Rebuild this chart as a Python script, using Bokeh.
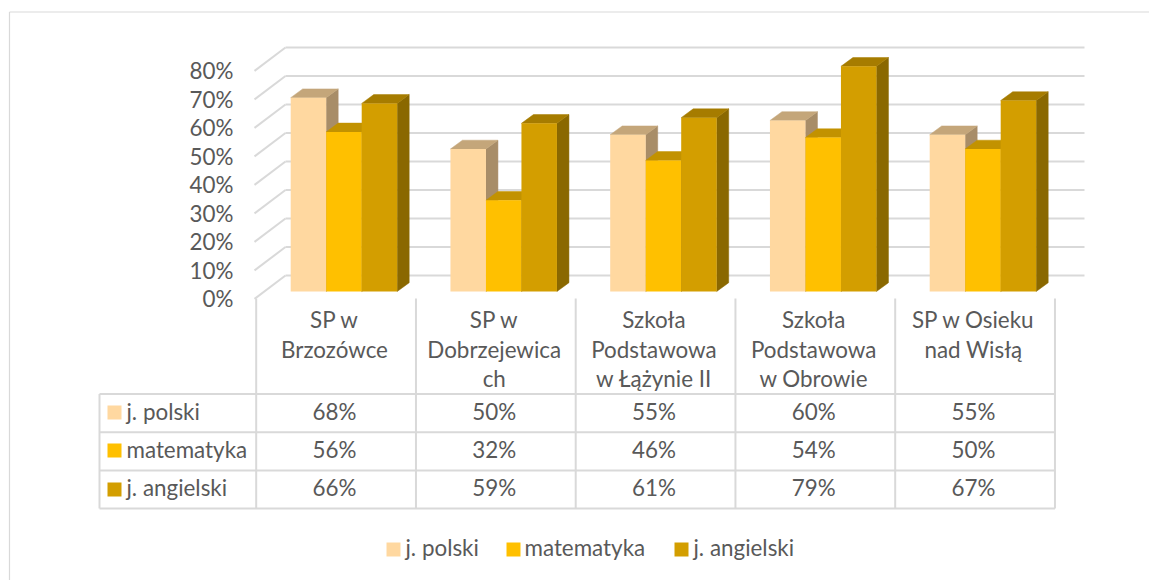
from bokeh.plotting import figure
from bokeh.embed import file_html
from bokeh.resources import INLINE
from bokeh.core.properties import value
from bokeh.models import Range1d, LinearAxis, FixedTicker, PrintfTickFormatter

categories = ["SP w\nBrzozówce", "SP w\nDobrzejewica\nch", "Szkoła\nPodstawowa\nw Łążynie II",
              "Szkoła\nPodstawowa\nw Obrowie", "SP w Osieku\nnad Wisłą"]
series_names = ["j. polski", "matematyka", "j. angielski"]
polski = [68, 50, 55, 60, 55]
matematyka = [56, 32, 46, 54, 50]
angielski = [66, 59, 61, 79, 67]
y_ticks = [0, 10, 20, 30, 40, 50, 60, 70, 80]

FONT = value("Lato")
FS = value("22.4px")
TXT = "#595959"
GRID = "#d9d9d9"
FRONT = ["#FFD8A0", "#FFC000", "#D39E00"]
TOP = ["#C4A67A", "#C29200", "#A67C00"]
SIDE = ["#A88D68", "#A67C00", "#8A6800"]

# layout: pixel geometry of the page -> data scales
W, H = 1149, 580
CELL = 159.75
X0 = 255.7
Y0 = 298.4
PPV = 2.85


def ux(px):
    return (px - X0) / CELL


def vy(py):
    return (Y0 - py) / PPV


p = figure(width=W, height=H, output_backend="svg", toolbar_location=None,
           x_range=Range1d(ux(0), ux(W)), y_range=Range1d(vy(H), vy(0)),
           x_axis_location=None, y_axis_location=None,
           min_border=0, min_border_left=0, min_border_right=0, min_border_top=0, min_border_bottom=0,
           outline_line_color=None, background_fill_color="white", border_fill_color="white")
p.xgrid.visible = False
p.ygrid.visible = False
p.grid.visible = False

# chart frame
p.segment([ux(9)], [vy(11.5)], [ux(W)], [vy(11.5)], line_color=GRID, line_width=1.2)
p.segment([ux(9)], [vy(11.5)], [ux(9)], [vy(H)], line_color=GRID, line_width=1.2)

# walls: side wall diagonals and back wall lines
wall_dx = 31 / CELL
wall_dy = 23.4 / PPV
n = len(categories)
back_end = ux(1084)
x_wall = ux(254)
p.segment([x_wall] * len(y_ticks), y_ticks, [x_wall + wall_dx] * len(y_ticks),
          [t + wall_dy for t in y_ticks], line_color=GRID, line_width=2)
p.segment([x_wall + wall_dx] * len(y_ticks), [t + wall_dy for t in y_ticks],
          [back_end] * len(y_ticks), [t + wall_dy for t in y_ticks], line_color=GRID, line_width=2)

# bars
bar_w = 35.5 / CELL
bar_x0 = 34.5 / CELL
base = (Y0 - 291) / PPV
dx = 12 / CELL
dy = 8.8 / PPV
for j, vals in enumerate([polski, matematyka, angielski]):
    left = [i + bar_x0 + j * bar_w for i in range(n)]
    right = [l + bar_w for l in left]
    tops = [base + v for v in vals]
    p.patches([[r, r + dx, r + dx, r] for r in right],
              [[base, base + dy, t + dy, t] for t in tops],
              fill_color=SIDE[j], line_color=SIDE[j], line_width=0.5)
    p.patches([[l, l + dx, r + dx, r] for l, r in zip(left, right)],
              [[t, t + dy, t + dy, t] for t in tops],
              fill_color=TOP[j], line_color=TOP[j], line_width=0.5)
    p.vbar(x=[l + bar_w / 2 for l in left], width=bar_w, bottom=base, top=tops,
           fill_color=FRONT[j], line_color=None)

# data table grid
row_lines = [vy(393.5), vy(431.7), vy(470), vy(508)]
col_lines = [float(i) for i in range(n + 1)]
tab_left = ux(99)
p.segment([tab_left] * len(row_lines), row_lines, [float(n)] * len(row_lines), row_lines,
          line_color=GRID, line_width=2)
p.segment(col_lines, [vy(298)] * len(col_lines), col_lines, [row_lines[-1]] * len(col_lines),
          line_color=GRID, line_width=2)
p.segment([tab_left], [row_lines[0]], [tab_left], [row_lines[-1]], line_color=GRID, line_width=2)

# category labels
line_y = [vy(319.2), vy(348.7), vy(377.7)]
xs, ys, ts = [], [], []
for i, c in enumerate(categories):
    for k, t in enumerate(c.split("\n")):
        xs.append(i + 0.49)
        ys.append(line_y[k])
        ts.append(t)
p.text(xs, ys, text=ts, text_align="center", text_baseline="middle",
       text_font=FONT, text_font_size=FS, text_color=TXT)

# table rows
row_y = [vy(410.7), vy(448.7), vy(486.7)]
sw_y = [vy(412), vy(450), vy(489)]
for r, (name, vals) in enumerate(zip(series_names, [polski, matematyka, angielski])):
    p.text([i + 0.49 for i in range(n)], [row_y[r]] * n, text=[f"{v}%" for v in vals],
           text_align="center", text_baseline="middle", text_font=FONT, text_font_size=FS, text_color=TXT)
    p.scatter([ux(114)], [sw_y[r]], marker="square", size=14, fill_color=FRONT[r], line_color=None)
    p.text([ux(126)], [row_y[r]], text=[name], text_align="left", text_baseline="middle",
           text_font=FONT, text_font_size=FS, text_color=TXT)

# bottom legend
leg_sw = [393, 513, 681]
leg_tx = [405, 524, 693]
for r, name in enumerate(series_names):
    p.scatter([ux(leg_sw[r])], [vy(549)], marker="square", size=14, fill_color=FRONT[r], line_color=None)
    p.text([ux(leg_tx[r])], [vy(547.2)], text=[name], text_align="left", text_baseline="middle",
           text_font=FONT, text_font_size=FS, text_color=TXT)

# value axis
ax = LinearAxis(ticker=FixedTicker(ticks=y_ticks), formatter=PrintfTickFormatter(format="%d%%"),
                fixed_location=x_wall, axis_line_color=None, major_tick_line_color=None,
                minor_tick_line_color=None, major_label_standoff=15,
                major_label_text_font="Lato", major_label_text_font_size="22.4px",
                major_label_text_color=TXT)
p.add_layout(ax, "left")

open("out.html", "w").write(file_html(p, INLINE))
